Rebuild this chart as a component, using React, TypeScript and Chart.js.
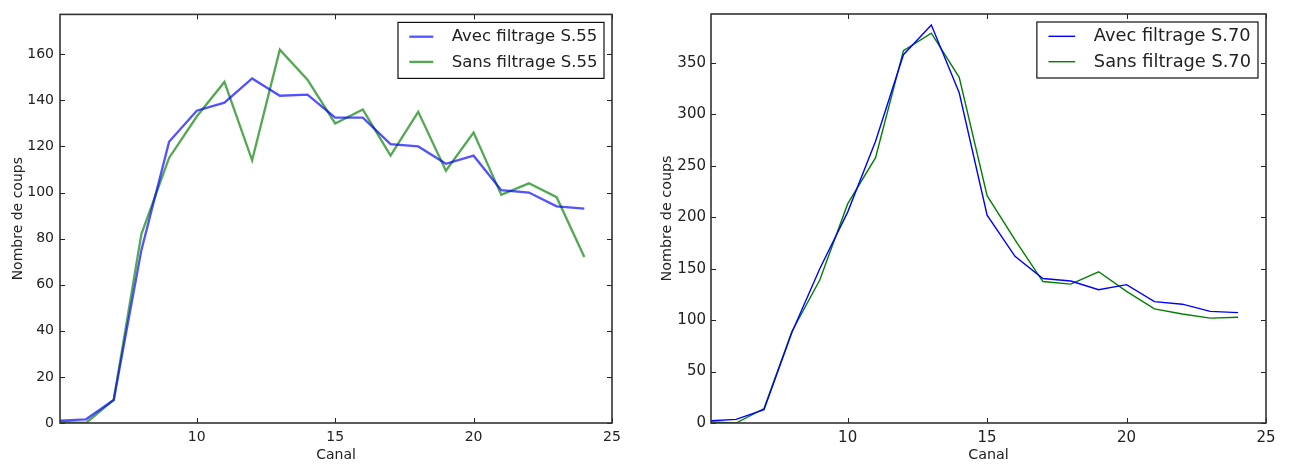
import React, { useEffect, useRef } from 'react';
import { Chart, registerables } from 'chart.js';

Chart.register(...registerables);

// ---- Data ----
const CANAL = [5, 6, 7, 8, 9, 10, 11, 12, 13, 14, 15, 16, 17, 18, 19, 20, 21, 22, 23, 24];

const AVEC_S55 = [1, 1.6, 10, 75, 122, 135.5, 139, 149.5, 142, 142.5, 132.5, 132.5, 121, 120, 112.5, 116, 101, 100, 94, 93];
const SANS_S55 = [0.5, 0, 10, 82, 115, 133, 148, 114, 162, 149, 130, 136, 116, 135, 109.5, 126, 99, 104, 98, 72];

const AVEC_S70 = [2, 3.5, 13, 88, 150, 205, 274, 358, 387, 321, 202, 162, 140.5, 138, 129.5, 134.5, 118, 115.5, 108.5, 107.3];
const SANS_S70 = [1, 0, 14, 89, 139, 213, 258, 362, 379, 336, 221, 178, 137.5, 135, 147, 128, 111, 106, 102, 102.8];

const X_TICKS = [10, 15, 20, 25];
const Y_TICKS_S55 = [0, 20, 40, 60, 80, 100, 120, 140, 160];
const Y_TICKS_S70 = [0, 50, 100, 150, 200, 250, 300, 350];

const LABELS_S55 = ['Avec filtrage S.55', 'Sans filtrage S.55'];
const LABELS_S70 = ['Avec filtrage S.70', 'Sans filtrage S.70'];

const X_TITLE = 'Canal';
const Y_TITLE = 'Nombre de coups';

const FONT = "'DejaVu Sans', sans-serif";
const TEXT = '#222';

// ---- Plugins ----
const framePlugin = {
  id: 'mplFrame',
  afterDatasetsDraw(chart: any) {
    const { ctx, chartArea: a, scales } = chart;
    const tl = 5;
    ctx.save();
    ctx.strokeStyle = '#222';
    ctx.lineWidth = 1;
    scales.x.ticks.forEach((t: any) => {
      const px = Math.round(scales.x.getPixelForValue(t.value)) + 0.5;
      ctx.beginPath();
      ctx.moveTo(px, a.bottom);
      ctx.lineTo(px, a.bottom - tl);
      ctx.moveTo(px, a.top);
      ctx.lineTo(px, a.top + tl);
      ctx.stroke();
    });
    scales.y.ticks.forEach((t: any) => {
      const py = Math.round(scales.y.getPixelForValue(t.value)) + 0.5;
      ctx.beginPath();
      ctx.moveTo(a.left, py);
      ctx.lineTo(a.left + tl, py);
      ctx.moveTo(a.right, py);
      ctx.lineTo(a.right - tl, py);
      ctx.stroke();
    });
    ctx.lineWidth = 1.6;
    ctx.strokeStyle = '#333';
    ctx.strokeRect(a.left, a.top, a.right - a.left, a.bottom - a.top);
    ctx.restore();
  },
};

const legendPlugin = {
  id: 'boxLegend',
  afterDraw(chart: any, _args: any, opts: any) {
    const { ctx, chartArea: a } = chart;
    const ds = chart.data.datasets;
    ctx.save();
    ctx.font = `${opts.fontSize}px ${FONT}`;
    let maxW = 0;
    ds.forEach((d: any) => {
      maxW = Math.max(maxW, ctx.measureText(d.label).width);
    });
    const w = opts.padL + opts.handleLen + opts.gap + maxW + opts.padR;
    const right = a.right - opts.inset;
    const left = right - w;
    const top = a.top + opts.inset;
    ctx.fillStyle = '#fff';
    ctx.fillRect(left, top, w, opts.height);
    ctx.strokeStyle = '#111';
    ctx.lineWidth = 1.2;
    ctx.strokeRect(left, top, w, opts.height);
    ds.forEach((d: any, i: number) => {
      const y = top + opts.rows[i];
      ctx.strokeStyle = d.borderColor;
      ctx.lineWidth = d.borderWidth;
      ctx.beginPath();
      ctx.moveTo(left + opts.padL, y);
      ctx.lineTo(left + opts.padL + opts.handleLen, y);
      ctx.stroke();
      ctx.fillStyle = TEXT;
      ctx.textBaseline = 'middle';
      ctx.textAlign = 'left';
      ctx.fillText(d.label, left + opts.padL + opts.handleLen + opts.gap, y + 0.5);
    });
    ctx.restore();
  },
};

type Panel = {
  canvasLeft: number;
  canvasWidth: number;
  area: { left: number; right: number; top: number; bottom: number };
  xMin: number;
  xMax: number;
  yMax: number;
  yTicks: number[];
  series: number[][];
  labels: string[];
  colors: string[];
  lineWidth: number;
  tickFont: number;
  titleFont: number;
  yTitleCenter: number;
  yTickPad: number;
  legend: any;
};

const HEIGHT = 465;

const PANELS: Panel[] = [
  {
    canvasLeft: 0,
    canvasWidth: 645,
    area: { left: 60, right: 612, top: 10, bottom: 423 },
    xMin: 5.06,
    xMax: 25,
    yMax: 177.3,
    yTicks: Y_TICKS_S55,
    series: [AVEC_S55, SANS_S55],
    labels: LABELS_S55,
    colors: ['rgba(0,0,255,0.68)', 'rgba(0,128,0,0.68)'],
    lineWidth: 2.3,
    tickFont: 14,
    titleFont: 14,
    yTitleCenter: 18,
    yTickPad: 6,
    legend: { fontSize: 16.5, padL: 11.3, handleLen: 24, gap: 18.4, padR: 6.5, inset: 8, height: 56, rows: [14.3, 39.5] },
  },
  {
    canvasLeft: 645,
    canvasWidth: 645,
    area: { left: 66, right: 621, top: 10, bottom: 423 },
    xMin: 5.1,
    xMax: 25,
    yMax: 397.6,
    yTicks: Y_TICKS_S70,
    series: [AVEC_S70, SANS_S70],
    labels: LABELS_S70,
    colors: ['#0000ff', '#008000'],
    lineWidth: 1.4,
    tickFont: 15,
    titleFont: 14.3,
    yTitleCenter: 22,
    yTickPad: 5,
    legend: { fontSize: 17.8, padL: 11.6, handleLen: 26.7, gap: 18.7, padR: 7, inset: 8, height: 56, rows: [14.3, 39.7] },
  },
];

function buildConfig(p: Panel): any {
  const yLH = (p.titleFont * 1.2) / 2;
  const xLH = (p.titleFont * 1.2) / 2;
  return {
    type: 'line',
    data: {
      datasets: p.series.map((vals, i) => ({
        label: p.labels[i],
        data: CANAL.map((x, j) => ({ x, y: vals[j] })),
        borderColor: p.colors[i],
        backgroundColor: p.colors[i],
        borderWidth: p.lineWidth,
        pointRadius: 0,
        pointHoverRadius: 0,
        tension: 0,
        fill: false,
      })),
    },
    options: {
      animation: false,
      responsive: false,
      maintainAspectRatio: false,
      events: [],
      layout: {
        padding: {
          left: 0,
          top: p.area.top,
          right: p.canvasWidth - p.area.right,
          bottom: 0,
        },
      },
      plugins: {
        legend: { display: false },
        tooltip: { enabled: false },
        boxLegend: p.legend,
      },
      scales: {
        x: {
          type: 'linear',
          min: p.xMin,
          max: p.xMax,
          afterBuildTicks: (s: any) => {
            s.ticks = X_TICKS.map((v) => ({ value: v }));
          },
          afterFit: (s: any) => {
            s.height = HEIGHT - p.area.bottom;
          },
          grid: { display: false, drawTicks: false },
          border: { display: false },
          ticks: {
            padding: 6,
            color: TEXT,
            font: { family: FONT, size: p.tickFont },
            maxRotation: 0,
            autoSkip: false,
          },
          title: {
            display: true,
            text: X_TITLE,
            color: TEXT,
            font: { family: FONT, size: p.titleFont },
            padding: { top: 0, bottom: 10 - xLH },
          },
        },
        y: {
          type: 'linear',
          min: 0,
          max: p.yMax,
          afterBuildTicks: (s: any) => {
            s.ticks = p.yTicks.map((v) => ({ value: v }));
          },
          afterFit: (s: any) => {
            s.width = p.area.left;
          },
          grid: { display: false, drawTicks: false },
          border: { display: false },
          ticks: {
            padding: p.yTickPad,
            color: TEXT,
            font: { family: FONT, size: p.tickFont },
            autoSkip: false,
          },
          title: {
            display: true,
            text: Y_TITLE,
            color: TEXT,
            font: { family: FONT, size: p.titleFont },
            padding: { top: p.yTitleCenter - yLH, bottom: 0 },
          },
        },
      },
    },
    plugins: [framePlugin, legendPlugin],
  };
}

function PanelChart({ panel }: { panel: Panel }) {
  const ref = useRef<HTMLCanvasElement | null>(null);
  useEffect(() => {
    if (!ref.current) return;
    const chart = new Chart(ref.current, buildConfig(panel));
    return () => chart.destroy();
  }, [panel]);
  return (
    <canvas
      ref={ref}
      width={panel.canvasWidth}
      height={HEIGHT}
      style={{
        position: 'absolute',
        left: panel.canvasLeft,
        top: 0,
        width: panel.canvasWidth,
        height: HEIGHT,
      }}
    />
  );
}

export default function App() {
  return (
    <div
      style={{
        position: 'fixed',
        left: 0,
        top: 0,
        width: 1290,
        height: HEIGHT,
        background: '#fff',
        overflow: 'hidden',
      }}
    >
      {PANELS.map((p, i) => (
        <PanelChart key={i} panel={p} />
      ))}
    </div>
  );
}
